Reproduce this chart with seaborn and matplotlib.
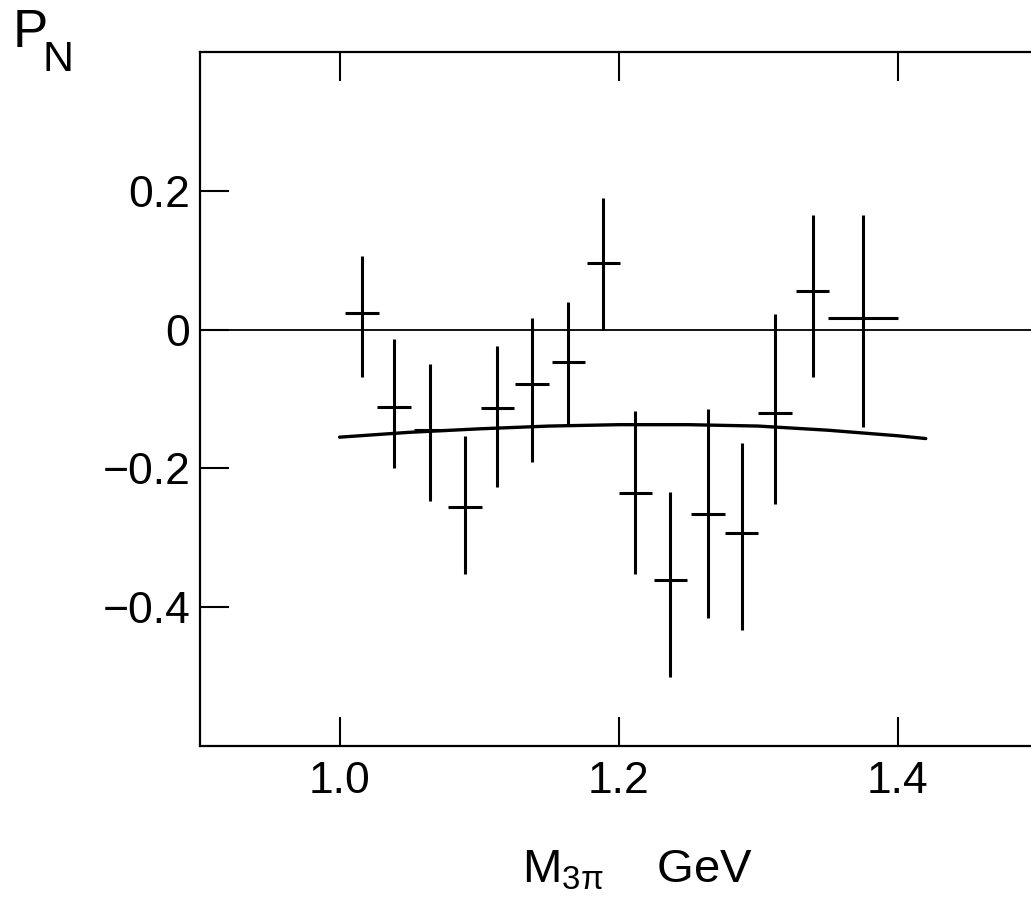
import matplotlib
matplotlib.use("Agg")
import matplotlib.pyplot as plt
import seaborn as sns

# Polarization P_N versus 3-pion mass
mass = [1.016, 1.039, 1.065, 1.090, 1.113, 1.138, 1.164, 1.189,
        1.212, 1.237, 1.264, 1.288, 1.312, 1.339, 1.375]
pn = [0.024, -0.112, -0.145, -0.256, -0.113, -0.079, -0.046, 0.096,
      -0.235, -0.361, -0.265, -0.293, -0.120, 0.056, 0.016]
pn_top = [0.106, -0.013, -0.050, -0.154, -0.023, 0.016, 0.040, 0.190,
          -0.117, -0.234, -0.115, -0.164, 0.023, 0.165, 0.165]
pn_bottom = [-0.069, -0.200, -0.247, -0.352, -0.227, -0.191, -0.137, 0.000,
             -0.352, -0.500, -0.416, -0.433, -0.252, -0.069, -0.141]
bin_half = [0.012] * 14 + [0.025]

# model curve
curve_x = [1.00, 1.05, 1.10, 1.15, 1.20, 1.25, 1.30, 1.35, 1.40, 1.42]
curve_y = [-0.155, -0.148, -0.143, -0.139, -0.137, -0.137, -0.139, -0.145, -0.153, -0.157]

x_ticks = [1.0, 1.2, 1.4]
y_ticks = [-0.4, -0.2, 0.0, 0.2]
y_tick_labels = ["\u22120.4", "\u22120.2", "0", "0.2"]

sns.set_style("ticks")
plt.rcParams["font.family"] = ["Liberation Sans", "DejaVu Sans"]
plt.rcParams["mathtext.default"] = "regular"
plt.rcParams["text.color"] = "black"
plt.rcParams["xtick.color"] = "black"
plt.rcParams["ytick.color"] = "black"

fig = plt.figure(figsize=(10.31, 9.06), dpi=100)
ax = fig.add_axes([200 / 1031, 160 / 906, 977 / 1031, 694 / 906])

yerr = [[p - b for p, b in zip(pn, pn_bottom)], [t - p for p, t in zip(pn, pn_top)]]
ax.errorbar(mass, pn, xerr=bin_half, yerr=yerr, fmt="none",
            ecolor="black", elinewidth=2.2, capsize=0)
sns.lineplot(x=curve_x, y=curve_y, ax=ax, color="black", lw=2.4)
ax.axhline(0, color="black", lw=1.3)

ax.set_xlim(0.9, 1.6)
ax.set_ylim(-0.6, 0.4)
ax.set_xticks(x_ticks)
ax.set_xticklabels(["1.0", "1.2", "1.4"])
ax.set_yticks(y_ticks)
ax.set_yticklabels(y_tick_labels)
ax.tick_params(direction="in", length=21, width=1.5, top=True, right=True,
               labelsize=32, color="black", labelcolor="black")
ax.tick_params(axis="x", pad=11)
ax.tick_params(axis="y", pad=7)
for s in ax.spines.values():
    s.set_linewidth(1.6)
    s.set_color("black")

# y-axis title P_N with a low-set subscript
fig.text(13 / 1031, 1 - 8 / 906, "P", fontsize=38, ha="left", va="top")
fig.text(43 / 1031, 1 - 40 / 906, "N", fontsize=31, ha="left", va="top")
fig.text(638 / 1031, 36 / 906, "M$_{3\u03c0}$    GeV", fontsize=34,
         ha="center", va="center")

fig.savefig("out.png", dpi=100)
